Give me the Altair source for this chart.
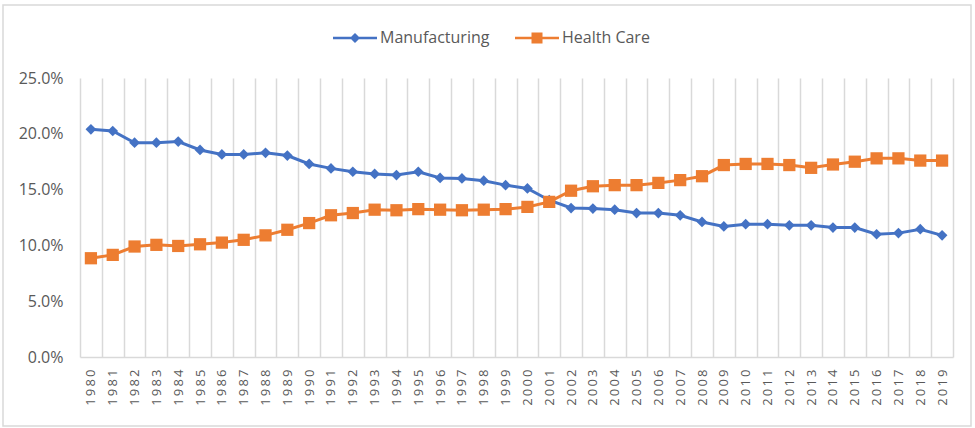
import altair as alt
import pandas as pd

# Share of employment by sector, in percent
years = [str(y) for y in range(1980, 2020)]
manufacturing = [
    20.4, 20.25, 19.2, 19.2, 19.3, 18.55, 18.15, 18.15, 18.3, 18.05,
    17.3, 16.9, 16.6, 16.4, 16.3, 16.6, 16.05, 16.0, 15.8, 15.4,
    15.1, 14.05, 13.35, 13.3, 13.2, 12.9, 12.9, 12.7, 12.1, 11.7,
    11.9, 11.9, 11.8, 11.8, 11.6, 11.6, 11.0, 11.1, 11.45, 10.9,
]
health_care = [
    8.85, 9.15, 9.9, 10.05, 9.95, 10.1, 10.25, 10.5, 10.9, 11.4,
    12.0, 12.7, 12.9, 13.2, 13.15, 13.25, 13.2, 13.15, 13.2, 13.25,
    13.45, 13.9, 14.9, 15.3, 15.4, 15.4, 15.6, 15.85, 16.2, 17.2,
    17.3, 17.3, 17.2, 16.95, 17.25, 17.5, 17.8, 17.8, 17.6, 17.6,
]
series_names = ["Manufacturing", "Health Care"]
series_colors = ["#4472C4", "#ED7D31"]
series_markers = ["diamond", "square"]
marker_sizes = [115, 150]

rows = []
for name, values in zip(series_names, [manufacturing, health_care]):
    for y, v in zip(years, values):
        rows.append({"year": y, "series": name, "share": v / 100})
df = pd.DataFrame(rows)

FONT = "Open Sans"
GRAY = "#595959"
GRID = "#d9d9d9"

# legend glyphs: a short line with the series marker in the middle
LEG_M = "M-1,-0.06L1,-0.06L1,0.06L-1,0.06Z M-0.23,0L0,-0.23L0.23,0L0,0.23Z"
LEG_H = "M-1,-0.06L1,-0.06L1,0.06L-1,0.06Z M-0.25,-0.25L0.25,-0.25L0.25,0.25L-0.25,0.25Z"

x_enc = alt.X(
    "year:N",
    title=None,
    scale=alt.Scale(paddingInner=0, paddingOuter=0),
    axis=alt.Axis(
        tickBand="extent",
        grid=True,
        gridColor=GRID,
        gridWidth=1.5,
        ticks=False,
        domainColor=GRID,
        domainWidth=1.5,
        labelAngle=270,
        labelPadding=12,
        labelFont=FONT,
        labelFontSize=13,
        labelColor=GRAY,
        labelOverlap=False,
        labelExpr="join(split(datum.label, ''), '\u2009')",
    ),
)
y_enc = alt.Y(
    "share:Q",
    title=None,
    scale=alt.Scale(domain=[0, 0.25]),
    axis=alt.Axis(
        values=[0, 0.05, 0.10, 0.15, 0.20, 0.25],
        format=".1%",
        grid=False,
        domain=False,
        ticks=False,
        labelPadding=17,
        labelFont=FONT,
        labelFontSize=16,
        labelColor=GRAY,
    ),
)

base = alt.Chart(df)

# line + markers for each series
series_layers = []
for name, col, shape, size in zip(series_names, series_colors, series_markers, marker_sizes):
    sub = base.transform_filter(alt.datum.series == name)
    series_layers.append(
        sub.mark_line(strokeWidth=3, color=col).encode(x=x_enc, y=y_enc)
    )
    series_layers.append(
        sub.mark_point(filled=True, opacity=1, color=col, shape=shape, size=size)
        .encode(x=x_enc, y=y_enc)
    )

legend_props = dict(
    title=None,
    orient="none",
    direction="horizontal",
    legendX=253,
    legendY=-62,
    padding=0,
    columnPadding=25,
    symbolSize=1936,
    symbolStrokeWidth=0,
    symbolOpacity=1,
    labelOffset=3,
    labelFont=FONT,
    labelFontSize=16,
    labelColor=GRAY,
)

# legend entries drawn as line + marker glyphs
legend_layer = base.mark_point(filled=True, opacity=0).encode(
    x=x_enc,
    y=y_enc,
    color=alt.Color("series:N", sort=series_names,
                    scale=alt.Scale(domain=series_names, range=series_colors),
                    legend=alt.Legend(**legend_props)),
    shape=alt.Shape("series:N", sort=series_names,
                    scale=alt.Scale(domain=series_names, range=[LEG_M, LEG_H]),
                    legend=alt.Legend(**legend_props)),
)

# outer frame of the chart
frame = alt.Chart(alt.Data(values=[{}])).mark_rect(
    fill=None, stroke=GRID, strokeWidth=1.5
).encode(
    x=alt.value(-77),
    x2=alt.value(891),
    y=alt.value(-73),
    y2=alt.value(348),
)

chart = (
    alt.layer(frame, *series_layers, legend_layer)
    .properties(
        width=873,
        height=279,
        padding={"left": 80, "top": 78, "right": 22, "bottom": 71},
        autosize=alt.AutoSizeParams(type="none"),
        background="white",
    )
    .configure_view(stroke=None)
)

chart.save("out.html", embed_options={"renderer": "svg", "actions": False})
